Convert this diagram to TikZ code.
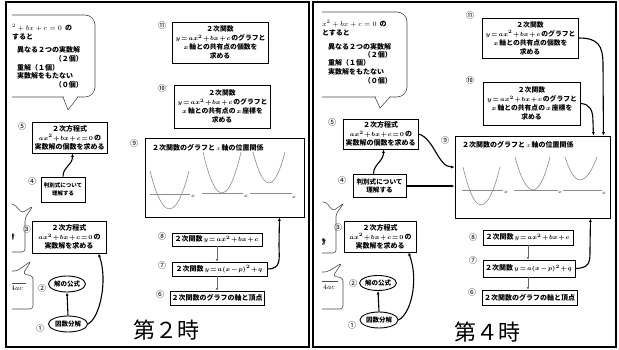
\documentclass[tikz,border=0pt]{standalone}
\usepackage{fontspec}
\newfontfamily\jp{Noto Sans CJK JP}
\usetikzlibrary{shapes.geometric,arrows.meta}
\newcommand\tightmath{\thinmuskip=1mu\medmuskip=1.5mu\thickmuskip=2mu}
\newcommand\mth[1]{{\fontsize{6.4}{9}\selectfont\,$#1$\,}}
\begin{document}
\begin{tikzpicture}[x=1pt,y=-1pt,
  bx/.style={draw, line width=0.9pt, inner sep=0pt, align=center, font=\jp\bfseries\boldmath\tightmath\fontsize{7}{9}\selectfont},
  bxs/.style={bx, font=\jp\bfseries\boldmath\tightmath\fontsize{6.8}{9}\selectfont},
  ov/.style={ellipse, draw, line width=0.9pt, inner sep=0pt, font=\jp\bfseries\fontsize{6.5}{8}\selectfont},
  num/.style={font=\jp\fontsize{8}{8}\selectfont, inner sep=0pt},
  thk/.style={line width=1.1pt, -{Latex[length=3.5pt,width=3pt]}},
  thn/.style={line width=0.5pt, black!60, -{Latex[length=2.5pt,width=2.5pt]}},
  bub/.style={line width=0.6pt, black!70},
  btxt/.style={font=\jp\bfseries\fontsize{7}{9}\selectfont, inner sep=0pt},
  frm/.style={line width=1.6pt},
  para/.style={black!45, line width=0.6pt},
  axs/.style={black!45, line width=0.5pt},
  xl/.style={font=\fontsize{5}{5}\selectfont, inner sep=0pt},
  ttl/.style={font=\jp\fontsize{22}{22}\selectfont, inner sep=0pt}
]
\useasboundingbox[fill=white] (0,0) rectangle (619,350);

% ================= LEFT PANEL =================
\draw[frm] (6,2) rectangle (309,347);
\begin{scope}
\clip (12,0) rectangle (309,350);
\draw[bub, rounded corners=10pt] (-20,15) rectangle (95,97);
\fill[white] (63.8,95.5) rectangle (77.2,98.5);
\draw[bub] (63,97) -- (68,110) -- (78,97);
\draw[bub, rounded corners=3pt] (0,204) -- (14,204) -- (22,213) -- (33,206) -- (25,218) -- (25,252) -- (0,252);
\node[btxt] (lm1) at (12,237) {き};
\draw[bub, rounded corners=3pt] (0,271) -- (17,271) -- (31,261) -- (23,274) -- (33,276) -- (33,309) -- (0,309);
\draw[bub] (6,283) -- (26,283);
\node[btxt] (lm2) at (17,288) {$4ac$};
\end{scope}
\node[btxt, anchor=west] (lt1) at (12,28) {${}^2 + bx + c = 0$ \ の};
\node[btxt, anchor=west] (lt2) at (12,37) {すると};
\node[btxt, anchor=west] (lt3) at (17,50) {異なる２つの実数解};
\node[btxt, anchor=east] (lt4) at (83,59) {（２個）};
\node[btxt, anchor=west] (lt5) at (17,68) {重解（１個）};
\node[btxt, anchor=west] (lt6) at (17,76) {実数解をもたない};
\node[btxt, anchor=east] (lt7) at (83,85) {（０個）};

\node[bxs, minimum width=96pt, minimum height=41pt] (L11) at (220,42.5) {２次関数\\\mth{y=ax^2+bx+c}のグラフと\\\mth{x}軸との共有点の個数を\\求める};
\node[bxs, minimum width=96pt, minimum height=43pt] (L10) at (222,106.5) {２次関数\\\mth{y=ax^2+bx+c}のグラフと\\\mth{x}軸との共有点の\mth{x}座標を\\求める};
\node[bx, minimum width=75pt, minimum height=31pt] (L5) at (69.5,137.5) {２次方程式\\\mth{ax^2+bx+c=0}の\\実数解の個数を求める};
\node[bx, minimum width=159pt, minimum height=79pt] (L9) at (224.5,177.5) {};
\node[btxt, anchor=west] (L9t) at (152,148) {２次関数のグラフと\mth{x}軸の位置関係};
\node[bx, minimum width=44pt, minimum height=25pt, font=\jp\bfseries\fontsize{5.5}{8}\selectfont] (L4) at (63,189.5) {判別式について\\理解する};
\node[bx, minimum width=74pt, minimum height=32pt] (L3) at (69,237) {２次方程式\\\mth{ax^2+bx+c=0}の\\実数解を求める};
\node[ov, minimum width=37pt, minimum height=16pt] (L2) at (67,284) {解の公式};
\node[ov, minimum width=39pt, minimum height=16pt] (L1) at (68,324) {因数分解};
\node[bx, minimum width=90pt, minimum height=13pt] (L8) at (217,239.5) {２次関数\mth{y=ax^2+bx+c}};
\node[bx, minimum width=95pt, minimum height=14pt] (L7) at (219.5,269) {２次関数\mth{y=a(x-p)^2+q}};
\node[bx, minimum width=94pt, minimum height=14pt] (L6) at (217,298) {２次関数のグラフの軸と頂点};

\node[num] (nL11) at (162,25) {⑪};
\node[num] (nL10) at (162,88) {⑩};
\node[num] (nL5) at (22,126) {⑤};
\node[num] (nL9) at (134,143) {⑨};
\node[num] (nL4) at (32,181) {④};
\node[num] (nL3) at (27,229) {③};
\node[num] (nL2) at (42,288) {②};
\node[num] (nL1) at (40,328) {①};
\node[num] (nL8) at (162,236) {⑧};
\node[num] (nL7) at (162,265) {⑦};
\node[num] (nL6) at (160,294) {⑥};

% parabolas left
\draw[axs] (150,194) -- (190,194);
\node[xl] (xL1) at (193,196) {$x$};
\draw[para] (150,171) parabola bend (169.5,209) (189,171);
\draw[axs] (202,193) -- (243,193);
\node[xl] (xL2) at (246,196) {$x$};
\draw[para] (203,152) parabola bend (222,193) (241,152);
\draw[axs] (250,193) -- (292,193);
\node[xl] (xL3) at (294,197) {$x$};
\draw[para] (253,152) parabola bend (269,183) (285,152);

% connectors left
\draw[thk] (L1.north) -- (L2.south);
\draw[thk] (L1.east) .. controls (100,318) and (108,280) .. ([xshift=-8pt]L3.south east);
\draw[thk] (L4.north) .. controls +(0,-10) and +(0,12) .. ([xshift=3pt]L5.south);
\draw[thn] (L8.south) -- (L8.south |- L7.north);
\draw[thn] (L7.south -| L8.south) -- (L6.north -| L8.south);
\draw[thk] (L7.east) .. controls (282,269) and (279,258) .. (279,245) -- ([xshift=-25pt]L9.south east);

\node[ttl] (T2) at (166,330) {第２時};

% ================= RIGHT PANEL =================
\draw[frm] (313,2) rectangle (616,347);
\begin{scope}
\clip (322,0) rectangle (616,350);
\draw[bub, rounded corners=10pt] (290,12) rectangle (407,97);
\fill[white] (375.8,95.5) rectangle (389.2,98.5);
\draw[bub] (375,97) -- (380,108) -- (390,97);
\draw[bub, rounded corners=3pt] (300,201) -- (326,202) -- (333,211) -- (344,203) -- (336,214) -- (336,253) -- (300,253);
\node[btxt] (rm1) at (322,218) {）};
\node[btxt] (rm2) at (323,242) {き};
\draw[bub, rounded corners=3pt] (300,272) -- (327,272) -- (342,263) -- (333,276) -- (343,278) -- (343,309) -- (300,309);
\draw[bub] (318,281) -- (338,281);
\node[btxt] (rm3) at (329,287) {$4ac$};
\end{scope}
\node[btxt, anchor=west] (rt1) at (322,24) {$x^2 + bx + c = 0$ \ の};
\node[btxt, anchor=west] (rt2) at (322,33) {とすると};
\node[btxt, anchor=west] (rt3) at (328,47) {異なる２つの実数解};
\node[btxt, anchor=east] (rt4) at (392,55) {（２個）};
\node[btxt, anchor=west] (rt5) at (328,63) {重解（１個）};
\node[btxt, anchor=west] (rt6) at (328,72) {実数解をもたない};
\node[btxt, anchor=east] (rt7) at (392,81) {（０個）};

\node[bxs, minimum width=96pt, minimum height=40pt] (R11) at (530,38) {２次関数\\\mth{y=ax^2+bx+c}のグラフと\\\mth{x}軸との共有点の個数を\\求める};
\node[bxs, minimum width=97pt, minimum height=43pt] (R10) at (531.5,103.5) {２次関数\\\mth{y=ax^2+bx+c}のグラフと\\\mth{x}軸との共有点の\mth{x}座標を\\求める};
\node[bx, minimum width=155pt, minimum height=82pt] (R9) at (532.5,177) {};
\node[btxt, anchor=west] (R9t) at (462,145) {２次関数のグラフと\mth{x}軸の位置関係};
\node[bx, minimum width=75pt, minimum height=30pt] (R5) at (380.5,134) {２次方程式\\\mth{ax^2+bx+c=0}の\\実数解の個数を求める};
\node[bx, minimum width=53pt, minimum height=23pt, font=\jp\bfseries\fontsize{6.6}{8.5}\selectfont] (R4) at (379.5,186) {判別式について\\理解する};
\node[bx, minimum width=72pt, minimum height=31pt] (R3) at (380,236.5) {２次方程式\\\mth{ax^2+bx+c=0}の\\実数解を求める};
\node[ov, minimum width=36pt, minimum height=15pt] (R2) at (378,283) {解の公式};
\node[ov, minimum width=38pt, minimum height=16pt] (R1) at (379,320) {因数分解};
\node[bx, minimum width=90pt, minimum height=15pt] (R8) at (528,237.5) {２次関数\mth{y=ax^2+bx+c}};
\node[bx, minimum width=92pt, minimum height=17pt] (R7) at (529,268.5) {２次関数\mth{y=a(x-p)^2+q}};
\node[bx, minimum width=95pt, minimum height=15pt] (R6) at (529.5,297.5) {２次関数のグラフの軸と頂点};

\node[num] (nR11) at (470,15) {⑪};
\node[num] (nR10) at (470,80) {⑩};
\node[num] (nR5) at (332,122) {⑤};
\node[num] (nR9) at (445,140) {⑨};
\node[num] (nR4) at (342,180) {④};
\node[num] (nR3) at (338,227) {③};
\node[num] (nR2) at (353,283) {②};
\node[num] (nR1) at (352,325) {①};
\node[num] (nR8) at (473,237) {⑧};
\node[num] (nR7) at (473,260) {⑦};
\node[num] (nR6) at (472,292) {⑥};

% parabolas right
\draw[axs] (462,190) -- (503,190);
\node[xl] (xR1) at (506,192) {$x$};
\draw[para] (463,167) parabola bend (481,205) (500,167);
\draw[axs] (514,190) -- (558,190);
\node[xl] (xR2) at (560,192) {$x$};
\draw[para] (515,157) parabola bend (533,190) (550,157);
\draw[axs] (563,190) -- (602,190);
\node[xl] (xR3) at (604,193) {$x$};
\draw[para] (565,157) parabola bend (580,180) (597,157);

% connectors right
\draw[thk] (R1.north) -- (R2.south);
\draw[thk] (R1.east) .. controls (411,314) and (419,280) .. ([xshift=-8pt]R3.south east);
\draw[thk] ([xshift=-6pt]R4.north) .. controls +(0,-10) and +(0,12) .. ([xshift=3pt]R5.south);
\draw[thk] (R5.east) .. controls (434,138) and (438,167) .. ([yshift=10pt]R9.west);
\draw[thk] (R4.east) -- ([yshift=-9pt]R9.west);
\draw[thk] (R11.east) .. controls (598,38) and (603,45) .. (603,65) -- ([xshift=-7pt]R9.north east);
\draw[thk] (R10.east) .. controls (590,104) and (593,110) .. (593,122) -- ([xshift=-17pt]R9.north east);
\draw[thn] (R8.south) -- (R8.south |- R7.north);
\draw[thn] (R7.south -| R8.south) -- (R6.north -| R8.south);
\draw[thk] (R7.east) .. controls (590,268) and (590,262) .. (590,250) -- ([xshift=-20pt]R9.south east);

\node[ttl] (T4) at (487,332) {第４時};
\end{tikzpicture}
\end{document}
